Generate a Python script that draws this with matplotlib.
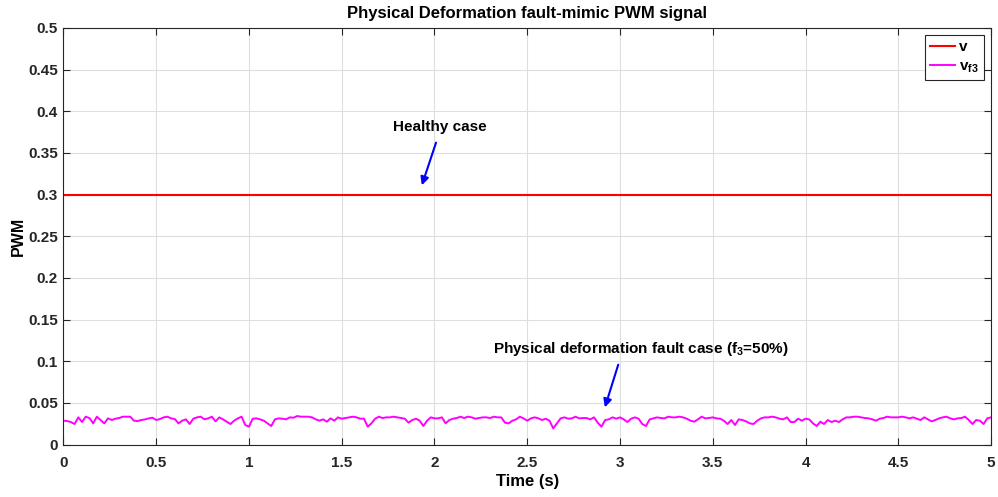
import matplotlib
matplotlib.use("Agg")
import matplotlib.pyplot as plt
import numpy as np

plt.rcParams["font.family"] = ["Liberation Sans", "DejaVu Sans"]
plt.rcParams["font.weight"] = "bold"
plt.rcParams["mathtext.fontset"] = "custom"
plt.rcParams["mathtext.rm"] = "Liberation Sans:bold"
plt.rcParams["mathtext.it"] = "Liberation Sans:bold"

# healthy PWM level
v_level = 0.3

v_f3 = [
    0.0286, 0.0282, 0.0270, 0.0246, 0.0326, 0.0270, 0.0334, 0.0318, 0.0254, 0.0334,
    0.0294, 0.0254, 0.0314, 0.0294, 0.0310, 0.0318, 0.0334, 0.0334, 0.0334, 0.0286,
    0.0282, 0.0294, 0.0302, 0.0314, 0.0322, 0.0294, 0.0306, 0.0326, 0.0334, 0.0314,
    0.0306, 0.0254, 0.0286, 0.0302, 0.0246, 0.0310, 0.0326, 0.0334, 0.0302, 0.0314,
    0.0334, 0.0278, 0.0326, 0.0302, 0.0274, 0.0246, 0.0286, 0.0314, 0.0334, 0.0234,
    0.0214, 0.0310, 0.0314, 0.0302, 0.0286, 0.0254, 0.0222, 0.0302, 0.0314, 0.0310,
    0.0302, 0.0326, 0.0322, 0.0342,
    0.0334, 0.0334, 0.0334, 0.0326, 0.0302, 0.0286, 0.0302, 0.0274, 0.0314, 0.0286,
    0.0326, 0.0310, 0.0318, 0.0326, 0.0334, 0.0326, 0.0310, 0.0310, 0.0214, 0.0254,
    0.0310, 0.0334, 0.0318, 0.0326, 0.0326, 0.0334, 0.0326, 0.0318, 0.0310, 0.0262,
    0.0294, 0.0310, 0.0286, 0.0222, 0.0286, 0.0326, 0.0314, 0.0314, 0.0326, 0.0254,
    0.0294, 0.0310, 0.0318, 0.0334, 0.0318, 0.0334, 0.0326, 0.0310, 0.0318, 0.0326,
    0.0326, 0.0318, 0.0334, 0.0326, 0.0326, 0.0262, 0.0254, 0.0286, 0.0302, 0.0334,
    0.0314, 0.0286,
    0.0314, 0.0326, 0.0314, 0.0294, 0.0310, 0.0286, 0.0194, 0.0254, 0.0314, 0.0326,
    0.0310, 0.0314, 0.0334, 0.0314, 0.0318, 0.0318, 0.0302, 0.0326, 0.0262, 0.0214,
    0.0294, 0.0302, 0.0326, 0.0310, 0.0326, 0.0302, 0.0270, 0.0310, 0.0326, 0.0310,
    0.0246, 0.0222, 0.0302, 0.0314, 0.0326, 0.0318, 0.0314, 0.0334, 0.0326, 0.0326,
    0.0334, 0.0326, 0.0310, 0.0286, 0.0274, 0.0302, 0.0334, 0.0314, 0.0318, 0.0326,
    0.0314, 0.0310, 0.0286, 0.0246, 0.0294, 0.0234, 0.0302, 0.0294, 0.0278, 0.0254,
    0.0246, 0.0286,
    0.0314, 0.0326, 0.0326, 0.0334, 0.0326, 0.0310, 0.0302, 0.0326, 0.0270, 0.0270,
    0.0310, 0.0286, 0.0310, 0.0302, 0.0254, 0.0222, 0.0274, 0.0246, 0.0294, 0.0270,
    0.0286, 0.0270, 0.0302, 0.0326, 0.0326, 0.0334, 0.0334, 0.0326, 0.0318, 0.0314,
    0.0302, 0.0286, 0.0310, 0.0318, 0.0334, 0.0326, 0.0326, 0.0326, 0.0334, 0.0326,
    0.0314, 0.0326, 0.0310, 0.0294, 0.0326, 0.0302, 0.0278, 0.0294, 0.0314, 0.0326,
    0.0334, 0.0314, 0.0302, 0.0314, 0.0318, 0.0334, 0.0294, 0.0246, 0.0294, 0.0286,
    0.0246, 0.0314, 0.0326,
]
t = np.linspace(0, 5, len(v_f3))

x_ticks = np.arange(0, 5.01, 0.5)
y_ticks = np.arange(0, 0.501, 0.05)

fig = plt.figure(figsize=(9.98, 4.97), dpi=100)
ax = fig.add_axes([0.0636, 0.1056, 0.9294, 0.8381])

ax.plot([0, 5], [v_level, v_level], color="red", linewidth=1.5, label="v")
ax.plot(t, v_f3, color="magenta", linewidth=1.4, label="v$_{f3}$")

ax.set_xlim(0, 5)
ax.set_ylim(0, 0.5)
ax.set_xticks(x_ticks)
ax.set_yticks(y_ticks)
ax.set_xticklabels([f"{v:g}" for v in x_ticks])
ax.set_yticklabels([f"{v:g}" for v in np.round(y_ticks, 2)])
ax.tick_params(direction="in", top=True, right=True, length=5, width=0.8,
               labelsize=11, colors="0.15", pad=4)
ax.tick_params(axis="x", pad=8)
for s in ax.spines.values():
    s.set_color("0.15")
    s.set_linewidth(0.8)
ax.grid(True, color="0.87", linewidth=0.8)
ax.set_axisbelow(True)

ax.set_xlabel("Time (s)", fontsize=12, fontweight="bold", labelpad=3)
ax.set_ylabel("PWM", fontsize=11.5, fontweight="bold", labelpad=2)
ax.set_title("Physical Deformation fault-mimic PWM signal", fontsize=12,
             fontweight="bold", pad=7)

leg = ax.legend(loc="upper right", fontsize=11, handlelength=1.6,
                fancybox=False, framealpha=1, edgecolor="0.15",
                borderaxespad=0.45, handletextpad=0.3, labelspacing=0.35,
                borderpad=0.35)
leg.get_frame().set_linewidth(0.8)

arrow = dict(arrowstyle="-|>", color="blue", lw=1.5, mutation_scale=12)
ax.annotate("", xy=(1.927, 0.308), xytext=(2.013, 0.3655), arrowprops=arrow)
ax.text(2.03, 0.381, "Healthy case", ha="center", va="center", fontsize=11,
        fontweight="bold")
ax.annotate("", xy=(2.914, 0.0414), xytext=(2.995, 0.099), arrowprops=arrow)
ax.text(3.11, 0.1146, "Physical deformation fault case (f$_3$=50%)",
        ha="center", va="center", fontsize=11, fontweight="bold")

fig.savefig("out.png", dpi=100)
